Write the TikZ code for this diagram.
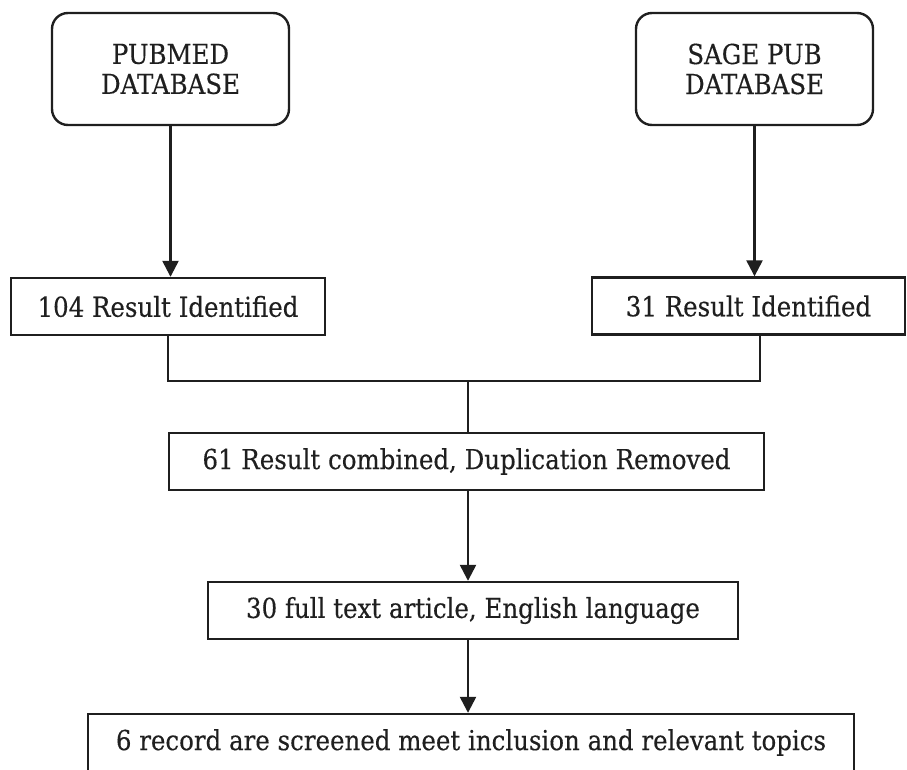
\documentclass[tikz,border=0pt]{standalone}
\usepackage{fontspec}
\setmainfont{DejaVu Serif}[FakeStretch=0.89, FakeBold=0.3]
\usetikzlibrary{arrows.meta}
\begin{document}
\begin{tikzpicture}[x=1pt, y=-1pt, line width=2.4pt, color=black!88,
    >={Triangle[width=16pt,length=16pt]},
    db node/.style={draw, rounded corners=16pt, align=center, minimum width=237pt, minimum height=112pt, inner sep=0pt},
    result node/.style={draw, minimum height=57pt, inner sep=0pt}]
        \tikzstyle{every node}=[font=\fontsize{27.5}{30}\selectfont, text=black!88]
        \useasboundingbox (0,0) rectangle (907,769);

          \node[db node] (pub) at (170.5,69) {PUBMED\\DATABASE};
          \node[db node] (sage) at (754.5,69) {SAGE PUB\\DATABASE};
          \node[result node, minimum width=314pt] (r104) at (168,306.5) {104 Result Identified};
          \node[result node, minimum width=313pt] (r31) at (748.5,306) {31 Result Identified};
          \node[result node, minimum width=595pt] (r61) at (466.5,461.5) {61 Result combined, Duplication Removed};
          \node[result node, minimum width=530pt] (r30) at (473,610.5) {30 full text article, English language};
          \node[result node, minimum width=766pt] (r6) at (471,742.5) {6 record are screened meet inclusion and relevant topics};

          \coordinate (join) at (468,381);
          \coordinate (r31 out) at ([xshift=11.5pt]r31.south);

          \draw[->] (pub.south) -- (pub.south |- r104.north);
          \draw[->] (sage.south) -- (sage.south |- r31.north);
          \draw (r104.south) |- (join) -| (r31 out);
          \draw (join) -- (join |- r61.north);
          \draw[->] (r61.south -| join) -- (r30.north -| join);
          \draw[->] (r30.south -| join) -- (r6.north -| join);

        \end{tikzpicture}
\end{document}
